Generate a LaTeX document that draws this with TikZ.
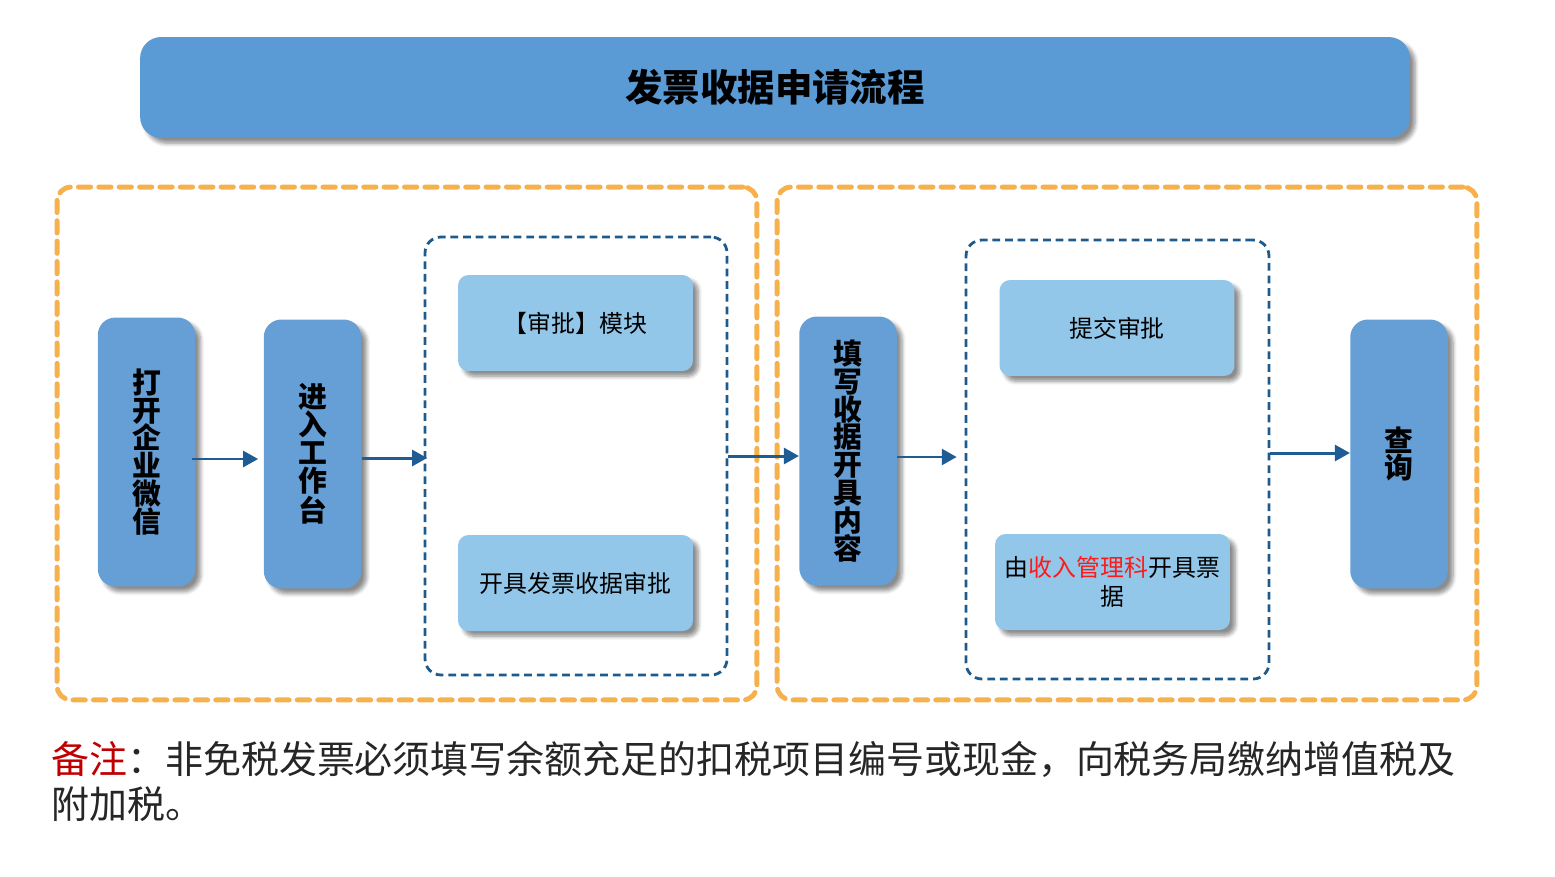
\documentclass[tikz,border=0pt]{standalone}
\usepackage{fontspec}
\usepackage{xcolor}
\setmainfont{Noto Sans CJK SC}
\usetikzlibrary{shadows.blur, arrows.meta}

\definecolor{titleblue}{HTML}{5B9BD5}
\definecolor{stageblue}{HTML}{659FD5}
\definecolor{subblue}{HTML}{92C7E9}
\definecolor{frameorange}{HTML}{F6B04C}
\definecolor{groupblue}{HTML}{1F5A8C}
\definecolor{arrowblue}{HTML}{1F5C94}
\definecolor{notered}{HTML}{C00000}
\definecolor{hotred}{HTML}{FF1A1A}

\tikzset{
  soft/.style={blur shadow={shadow xshift=3pt, shadow yshift=-3pt, shadow blur steps=6, shadow opacity=45}},
  stage/.style={fill=stageblue, rounded corners=10pt, minimum width=1.95cm, minimum height=5.38cm, align=center, soft,
    font=\bfseries\fontsize{16.4}{15.9}\selectfont},
  subbox/.style={fill=subblue, rounded corners=6pt, minimum width=4.7cm, minimum height=1.92cm, align=center, soft,
    font=\fontsize{13.6}{16.5}\selectfont},
  phase/.style={draw=frameorange, line width=2.8pt, dash pattern=on 7pt off 4.6pt, line cap=round, rounded corners=8pt,
    minimum width=14cm, minimum height=10.26cm},
  group/.style={draw=groupblue, line width=1.6pt, dash pattern=on 4.4pt off 2.8pt, rounded corners=9pt},
  flow/.style={-{Triangle[length=8.5pt, width=9pt]}, line width=1.7pt, draw=arrowblue, fill=arrowblue},
}

\begin{document}
\begin{tikzpicture}[x=0.02cm, y=-0.02cm]
    \useasboundingbox (0,0) rectangle (1555,876);

    % Title
    \node[fill=titleblue, rounded corners=12pt, minimum width=25.4cm, minimum height=2.02cm, soft,
      font=\bfseries\fontsize{21.3}{24}\selectfont] (title) at (775,87.5) {发票收据申请流程};

    % Phases
    \node[phase] (phaseA) at (407,443.5) {};
    \node[phase] (phaseB) at (1127,443.5) {};

    % Groups
    \node[group, minimum width=6.04cm, minimum height=8.76cm] (groupA) at (576,456) {};
    \node[group, minimum width=6.06cm, minimum height=8.78cm] (groupB) at (1117.5,459.5) {};

    % Stages
    \node[stage] (open) at (146.5,452) {打\\开\\企\\业\\微\\信};
    \node[stage] (work) at (312.5,454) {进\\入\\工\\作\\台};
    \node[stage] (fill) at (848,451) {填\\写\\收\\据\\开\\具\\内\\容};
    \node[stage] (query) at (1399,454) {查\\询};

    % Sub steps
    \node[subbox] (module) at (575.5,323) {【审批】模块};
    \node[subbox] (request) at (575.5,583) {开具发票收据审批};
    \node[subbox] (submit) at (1117,328) {提交审批};
    \node[subbox] (issue) at (1112.5,582) {由\textcolor{hotred}{收入管理科}开具票\\据};

    % Arrows
    \draw[flow, shorten <=-2pt, shorten >=3pt] ([yshift=-0.14cm]open.east) -- ([yshift=-0.14cm]open.east -| work.west);
    \draw[flow, shorten >=-2pt] ([yshift=-0.08cm]work.east) -- ([yshift=-0.08cm]work.east -| groupA.west);
    \draw[flow] (groupA.east) -- (groupA.east -| fill.west);
    \draw[flow, shorten >=4.5pt] ([yshift=-0.12cm]fill.east) -- ([yshift=-0.12cm]fill.east -| groupB.west);
    \draw[flow] ([yshift=0.02cm]groupB.east |- query.west) -- ([yshift=0.02cm]query.west);

    % Note
    \node[anchor=north west, inner sep=0pt, align=left, text=black!85, font=\fontsize{21.6}{25.6}\selectfont] (note) at (51,741)
      {\textcolor{notered}{备注}：非免税发票必须填写余额充足的扣税项目编号或现金，向税务局缴纳增值税及\\附加税。};
\end{tikzpicture}
\end{document}
